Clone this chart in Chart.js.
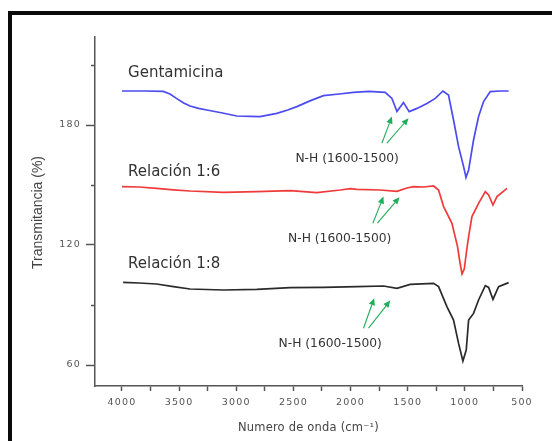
<!DOCTYPE html>
<html><head><meta charset="utf-8">
<script src="https://cdn.jsdelivr.net/npm/chart.js@4"></script>
<style>
html,body{margin:0;padding:0;background:#fff;}
#wrap{position:relative;width:552px;height:441px;overflow:hidden;background:#fff;}
#frame{position:absolute;left:8px;top:11px;width:600px;height:500px;border-top:4px solid #0a0a0a;border-left:4px solid #0a0a0a;pointer-events:none;}
canvas{position:absolute;left:0;top:0;}
</style></head><body>
<div id="wrap"><canvas id="c" width="552" height="441"></canvas><div id="frame"></div></div>
<script>
// ---- data (wavenumber cm-1, transmittance %) ----
const gentWave = [4000,3800,3640,3580,3520,3460,3405,3330,3258,3120,2996,2880,2792,2645,2550,2470,2350,2237,2100,1975,1840,1697,1638,1594,1537,1487,1419,1332,1259,1192,1143,1099,1055,1011,990,967,924,880,836,778,690,617];
const gentT    = [197,197,196.8,195.5,193.2,191,189.5,188.3,187.5,186,184.5,184.3,184.2,185.8,187.5,189.2,192.2,194.7,195.5,196.3,196.8,196.3,193.3,186.7,191.2,186.7,188.3,190.8,193.3,197,195,182.5,169.2,159.2,153.8,157.5,172.5,184.2,191.7,196.7,197,197];

const r16Wave = [4000,3850,3696,3550,3405,3113,2820,2529,2295,2091,2000,1945,1741,1594,1507,1449,1362,1274,1230,1186,1113,1064,1045,1025,1005,985,967,938,880,821,792,754,719,631];
const r16T    = [149.2,149,148.3,147.6,147,146.3,146.7,147.2,146.2,147.5,148.2,147.8,147.5,146.8,148.5,149.2,149,149.5,147.5,139.2,130.8,119.2,112,105.5,108,117,124.2,134.2,140.8,146.7,145,140,144.2,148.3];

const r18Wave = [3990,3850,3696,3550,3405,3113,2820,2529,2237,1945,1712,1594,1478,1274,1230,1157,1099,1055,1017,988,967,924,880,821,792,754,705,617];
const r18T    = [101.3,101,100.5,99.2,98,97.5,97.8,98.7,98.8,99.2,99.5,98.3,100.3,100.8,99.2,89.2,82.5,70.8,62,67.5,82.5,85.8,92.5,99.7,98.8,92.8,99.2,101.2];

const seriesNames = ['Gentamicina','Relación 1:6','Relación 1:8'];
const xTickValues = [4000,3750,3500,3250,3000,2750,2500,2250,2000,1750,1500,1250,1000,750,500];
const yTickValues = [60,120,180];
const yMinorValues = [90,150,210];

// annotation anchors (data coordinates)
const nameWave = [3947,3947,3947];
const nameT    = [204.2,154.5,108.3];
const nhLabel  = 'N-H (1600-1500)';
const nhWave   = [2030,2095,2178];
const nhT      = [161.7,121.7,69.2];
// arrows: [fromWave, fromT, toWave, toT]
const arrows = [
  [1726,170.9,1638,184.2],[1682,170.9,1493,183.4],
  [1805,130.9,1712,144.2],[1765,130.9,1572,143.9],
  [1887,78.4,1793,93.4],[1843,78.4,1653,92.2]
];

const toPts = (w,t) => w.map((v,i)=>({x:v,y:t[i]}));

const annot = {
  id:'annot',
  beforeDraw(chart){ chart.ctx.letterSpacing='1.2px'; },
  beforeDatasetsDraw(chart){ chart.ctx.letterSpacing='0px'; },
  afterDraw(chart){
    const {ctx, scales:{x,y}} = chart;
    ctx.save();
    ctx.letterSpacing='0px';
    // minor y ticks
    ctx.strokeStyle='#555'; ctx.lineWidth=1.5;
    yMinorValues.forEach(v=>{const py=Math.round(y.getPixelForValue(v))+0.5; ctx.beginPath(); ctx.moveTo(y.right-4,py); ctx.lineTo(y.right,py); ctx.stroke();});
    // series names
    ctx.fillStyle='#333'; ctx.font='15px "DejaVu Sans"'; ctx.textAlign='left'; ctx.textBaseline='alphabetic';
    seriesNames.forEach((s,i)=>ctx.fillText(s, x.getPixelForValue(nameWave[i]), y.getPixelForValue(nameT[i])));
    // NH labels
    ctx.font='12.3px "DejaVu Sans"'; ctx.textAlign='center';
    nhWave.forEach((w,i)=>ctx.fillText(nhLabel, x.getPixelForValue(w), y.getPixelForValue(nhT[i])));
    // arrows
    ctx.strokeStyle='#1fae5a'; ctx.fillStyle='#1fae5a'; ctx.lineWidth=1.1;
    arrows.forEach(a=>{
      const x1=x.getPixelForValue(a[0]), y1=y.getPixelForValue(a[1]);
      const x2=x.getPixelForValue(a[2]), y2=y.getPixelForValue(a[3]);
      const ang=Math.atan2(y2-y1,x2-x1), L=7, W=3.2;
      const bx=x2-L*Math.cos(ang), by=y2-L*Math.sin(ang);
      ctx.beginPath(); ctx.moveTo(x1,y1); ctx.lineTo(bx,by); ctx.stroke();
      ctx.beginPath(); ctx.moveTo(x2,y2);
      ctx.lineTo(bx+W*Math.sin(ang), by-W*Math.cos(ang));
      ctx.lineTo(bx-W*Math.sin(ang), by+W*Math.cos(ang));
      ctx.closePath(); ctx.fill();
    });
    // axis titles
    ctx.fillStyle='#444';
    ctx.font='14px "Liberation Sans"'; ctx.textAlign='center'; ctx.textBaseline='middle';
    ctx.save(); ctx.translate(38,(y.top+y.bottom)/2+1); ctx.rotate(-Math.PI/2); ctx.fillText('Transmitancia (%)',0,0); ctx.restore();
    ctx.font='11.5px "DejaVu Sans"'; ctx.letterSpacing='0.2px';
    ctx.fillText('Numero de onda (cm\u207B\u00B9)', (x.left+x.right)/2, 428);
    ctx.restore();
  }
};

new Chart(document.getElementById('c'), {
  type:'line',
  data:{datasets:[
    {label:seriesNames[0], data:toPts(gentWave,gentT), borderColor:'#4b4bf0', borderWidth:1.7},
    {label:seriesNames[1], data:toPts(r16Wave,r16T), borderColor:'#f03a3a', borderWidth:1.7},
    {label:seriesNames[2], data:toPts(r18Wave,r18T), borderColor:'#2a2a2a', borderWidth:1.7}
  ]},
  options:{
    responsive:false, animation:false, devicePixelRatio:1,
    elements:{point:{radius:0}, line:{tension:0}},
    layout:{padding:{top:37,right:30,left:0,bottom:0}},
    plugins:{legend:{display:false}, tooltip:{enabled:false}},
    scales:{
      x:{type:'linear', reverse:true, min:500, max:4236,
        afterBuildTicks(s){ s.ticks = xTickValues.map(v=>({value:v})); },
        afterFit(s){ s.height = 55; },
        grid:{drawOnChartArea:false, tickLength:5, tickColor:'#555', tickWidth:1.5},
        border:{color:'#555', width:1.5},
        ticks:{padding:6, color:'#555', font:{family:'DejaVu Sans', size:9.5}, maxRotation:0, autoSkip:false,
          callback:v => v % 500 === 0 ? String(v) : ''}
      },
      y:{type:'linear', min:49.5, max:224,
        afterBuildTicks(s){ s.ticks = yTickValues.map(v=>({value:v})); },
        afterFit(s){ s.width = 95; },
        grid:{drawOnChartArea:false, tickLength:9, tickColor:'#555', tickWidth:1.5},
        border:{color:'#555', width:1.5},
        ticks:{padding:5, color:'#555', font:{family:'DejaVu Sans', size:9.5}, callback:v=>String(v)}
      }
    }
  },
  plugins:[annot]
});
</script>
</body></html>
